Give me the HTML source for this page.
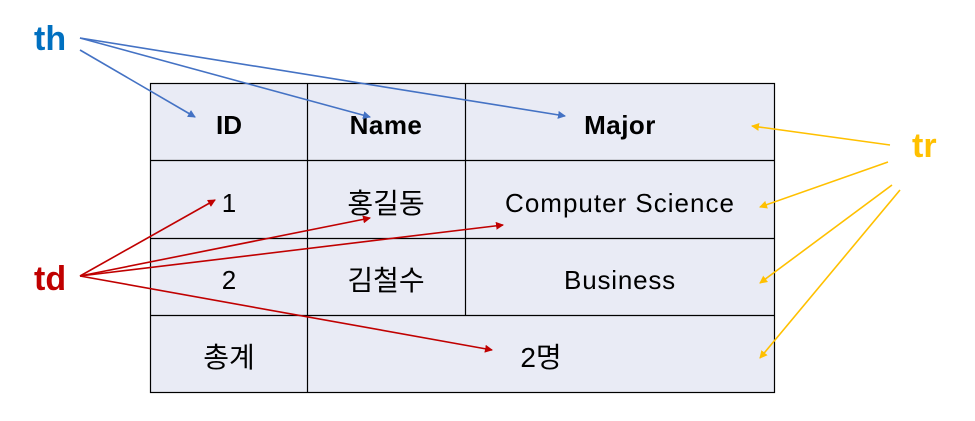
<!DOCTYPE html>
<html><head><meta charset="utf-8"><style>
body{margin:0;background:#fff;width:975px;height:421px;overflow:hidden;position:relative;font-family:"Liberation Sans","Noto Sans CJK KR",sans-serif}
svg{position:absolute;left:0;top:0}
</style></head><body>
<svg width="975" height="421" xmlns="http://www.w3.org/2000/svg">
<defs>
<marker id="b" markerWidth="8" markerHeight="8" refX="7" refY="4" orient="auto" markerUnits="userSpaceOnUse"><path d="M0,0 L8,4 L0,8 z" fill="#4472c4"/></marker>
<marker id="r" markerWidth="8" markerHeight="8" refX="7" refY="4" orient="auto" markerUnits="userSpaceOnUse"><path d="M0,0 L8,4 L0,8 z" fill="#c00000"/></marker>
<marker id="y" markerWidth="8" markerHeight="8" refX="7" refY="4" orient="auto" markerUnits="userSpaceOnUse"><path d="M0,0 L8,4 L0,8 z" fill="#ffc000"/></marker>
</defs>
<rect x="150.5" y="83.5" width="624" height="309" fill="#e9ebf5" stroke="#000" stroke-width="1.2"/>
<g stroke="#000" stroke-width="1.2">
<line x1="150" y1="160.5" x2="775" y2="160.5"/>
<line x1="150" y1="238.5" x2="775" y2="238.5"/>
<line x1="150" y1="315.5" x2="775" y2="315.5"/>
<line x1="307.5" y1="83" x2="307.5" y2="393"/>
<line x1="465.5" y1="83" x2="465.5" y2="315"/>
</g>
<g font-size="26" text-anchor="middle" fill="#000">
<text x="229" y="134" font-weight="bold">ID</text>
<text x="386" y="134" font-weight="bold" letter-spacing="0.5">Name</text>
<text x="620" y="134" font-weight="bold" letter-spacing="0.5">Major</text>
<text x="229" y="212">1</text>
<text x="386" y="213" font-size="28">홍길동</text>
<text x="620" y="212" letter-spacing="1">Computer Science</text>
<text x="229" y="289">2</text>
<text x="386" y="290" font-size="28">김철수</text>
<text x="620" y="289" letter-spacing="0.8">Business</text>
<text x="229" y="367" font-size="28">총계</text>
<text x="541" y="367" font-size="28">2명</text>
</g>
<text x="34" y="50" font-size="34" font-weight="bold" fill="#0070c0">th</text>
<text x="34" y="290" font-size="34" font-weight="bold" fill="#c00000">td</text>
<text x="912" y="157" font-size="34" font-weight="bold" fill="#ffc000">tr</text>
<g stroke="#4472c4" stroke-width="1.6" fill="none">
<line x1="80" y1="38" x2="565" y2="116" marker-end="url(#b)"/>
<line x1="80" y1="38" x2="370" y2="117" marker-end="url(#b)"/>
<line x1="80" y1="50" x2="195" y2="117" marker-end="url(#b)"/>
</g>
<g stroke="#c00000" stroke-width="1.6" fill="none">
<line x1="80" y1="276" x2="215" y2="200" marker-end="url(#r)"/>
<line x1="80" y1="276" x2="370" y2="218" marker-end="url(#r)"/>
<line x1="80" y1="276" x2="503" y2="225" marker-end="url(#r)"/>
<line x1="80" y1="276" x2="492" y2="350" marker-end="url(#r)"/>
</g>
<g stroke="#ffc000" stroke-width="1.6" fill="none">
<line x1="890" y1="145" x2="752" y2="126" marker-end="url(#y)"/>
<line x1="888" y1="162" x2="760" y2="207" marker-end="url(#y)"/>
<line x1="892" y1="185" x2="760" y2="283" marker-end="url(#y)"/>
<line x1="900" y1="190" x2="760" y2="358" marker-end="url(#y)"/>
</g>
</svg>
</body></html>
